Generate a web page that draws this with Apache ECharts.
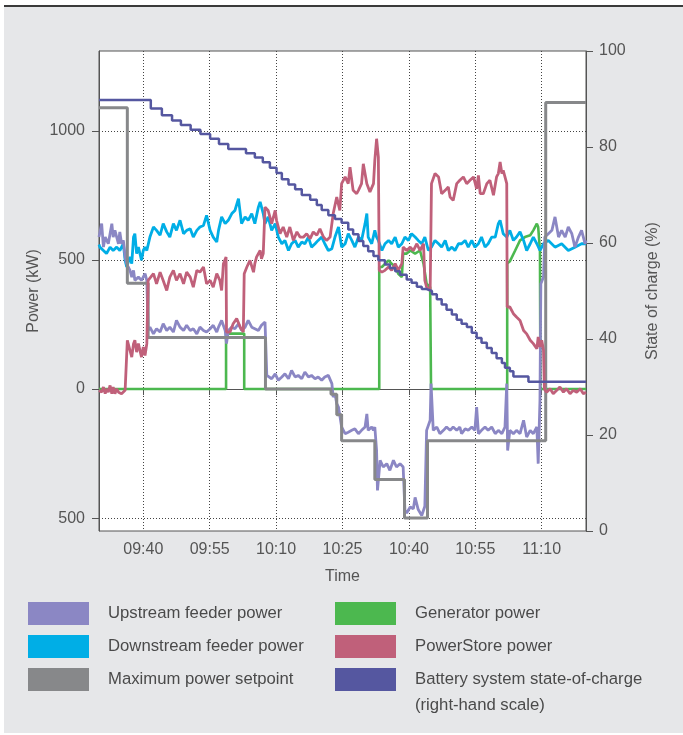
<!DOCTYPE html>
<html>
<head>
<meta charset="utf-8">
<script src="https://cdn.jsdelivr.net/npm/echarts@6/dist/echarts.min.js"></script>
<style>html,body{margin:0;padding:0;background:#fff}#c{width:683px;height:735px}</style>
</head>
<body>
<div id="c"></div>
<script>
// time values are minutes since midnight (09:30 = 570)
const xTicks = [580, 595, 610, 625, 640, 655, 670];
const yLeftTicks = [-500, 0, 500, 1000];

const upstream = [[570.0,589],[570.6,641],[571.0,550],[571.4,589],[572.1,563],[572.9,641],[573.2,589],[573.6,615],[574.4,563],[574.7,609],[575.1,563],[575.5,576],[575.9,512],[576.25,486],[576.6,473],[577.0,460],[577.4,434],[577.8,460],[578.1,421],[578.9,434],[579.6,421],[580.4,447],[580.8,421],[581.1,227],[581.5,240],[582.3,214],[583.0,234],[583.8,221],[584.5,253],[585.3,227],[586.0,240],[586.8,221],[587.5,266],[588.3,240],[589.1,227],[589.8,247],[590.6,227],[591.3,234],[592.1,214],[592.8,240],[593.6,227],[594.3,221],[595.1,234],[595.8,247],[596.6,221],[597.0,240],[597.7,266],[598.5,227],[598.8,176],[599.2,227],[600.0,240],[600.7,234],[601.5,253],[602.2,227],[603.0,240],[603.7,266],[604.5,240],[605.2,234],[606.0,227],[606.7,247],[607.5,260],[607.9,53],[608.2,53],[609.0,40],[609.8,59],[610.5,34],[611.3,47],[612.0,59],[612.8,40],[613.5,72],[614.3,47],[615.0,53],[615.8,40],[616.5,66],[617.3,47],[618.0,53],[618.8,40],[619.5,47],[620.3,34],[621.0,47],[621.8,53],[622.2,59],[622.6,21],[622.9,-31],[623.3,-18],[623.7,-57],[624.1,-70],[624.4,-70],[624.8,-147],[625.2,-160],[625.6,-173],[626.3,-167],[627.1,-160],[627.8,-154],[628.6,-173],[629.3,-160],[630.1,-147],[630.5,-96],[630.8,-160],[631.6,-147],[632.0,-160],[632.3,-147],[632.7,-238],[632.9,-393],[633.5,-276],[634.2,-302],[635.0,-289],[635.7,-315],[636.5,-276],[637.2,-302],[638.0,-289],[638.7,-302],[639.1,-470],[639.5,-480],[640.3,-457],[641.0,-464],[641.4,-420],[642.1,-467],[642.9,-490],[643.6,-454],[644.0,-160],[644.4,-160],[644.8,-121],[645.0,21],[645.5,-160],[646.3,-147],[647.0,-173],[647.8,-160],[648.5,-147],[649.3,-160],[650.0,-147],[650.8,-160],[651.5,-147],[651.9,-173],[652.7,-154],[653.4,-160],[654.2,-147],[654.9,-160],[655.3,-70],[655.7,-173],[656.4,-160],[657.2,-147],[657.9,-160],[658.7,-147],[659.5,-173],[660.2,-160],[661.0,-173],[661.7,-147],[662.1,21],[662.3,-238],[662.8,-160],[663.6,-173],[664.3,-160],[665.1,-173],[665.9,-121],[666.6,-186],[667.4,-160],[668.1,-173],[668.9,-147],[669.2,-289],[669.6,-44],[669.8,408],[670.4,434],[670.7,589],[671.5,602],[672.3,615],[673.0,667],[673.8,589],[674.5,615],[675.3,589],[676.0,628],[676.8,602],[677.5,550],[678.3,589],[679.0,615],[679.8,563],[680,576]];

const downstream = [[570.0,560],[570.2,550],[571.0,537],[571.7,525],[572.5,550],[573.2,537],[574.0,550],[574.7,537],[575.5,563],[575.9,499],[576.25,473],[577.0,512],[577.4,486],[577.8,589],[578.1,602],[578.5,525],[578.9,550],[579.6,499],[580.0,537],[580.4,550],[580.8,537],[581.5,589],[582.3,628],[583.0,615],[583.8,596],[584.5,641],[585.3,609],[586.0,589],[586.8,641],[587.5,615],[588.3,654],[589.1,602],[589.8,615],[590.6,621],[591.3,589],[592.1,615],[592.8,628],[593.6,634],[594.3,673],[595.1,615],[595.8,589],[596.6,570],[597.0,615],[597.7,667],[598.5,641],[599.2,654],[600.0,680],[600.7,692],[601.5,738],[602.2,641],[603.0,667],[603.7,654],[604.5,680],[605.2,641],[606.0,705],[606.4,725],[607.1,680],[607.5,641],[608.2,667],[609.0,615],[609.8,641],[610.5,589],[611.3,563],[612.0,576],[612.8,537],[613.5,563],[614.3,576],[615.0,550],[615.8,570],[616.5,563],[617.3,589],[618.0,550],[618.8,563],[619.5,576],[620.3,589],[621.0,563],[621.8,537],[622.6,544],[623.3,589],[624.1,628],[624.8,550],[625.6,563],[626.3,602],[627.1,576],[627.8,550],[628.6,589],[629.3,576],[630.1,641],[630.5,680],[630.8,589],[631.6,563],[632.3,615],[632.7,589],[633.1,576],[633.9,537],[634.6,563],[635.4,576],[636.1,563],[636.9,589],[637.6,550],[638.4,563],[639.1,589],[639.9,576],[640.6,602],[641.4,589],[642.1,576],[642.9,563],[643.6,589],[644.4,537],[645.1,550],[645.9,576],[646.7,563],[647.4,550],[648.2,576],[648.9,537],[649.7,550],[650.4,537],[651.2,563],[651.9,563],[652.7,576],[653.4,550],[654.2,576],[654.9,550],[655.7,563],[656.4,589],[657.2,550],[657.9,563],[658.7,589],[659.5,589],[660.2,641],[660.6,654],[661.3,602],[662.1,589],[662.8,615],[663.6,576],[664.3,589],[665.1,609],[665.9,576],[666.6,537],[667.4,563],[668.1,589],[668.9,563],[669.6,537],[670.4,563],[671.5,576],[673.0,550],[674.5,563],[676.0,537],[677.5,550],[679.0,563],[680,563]];

const setpoint = [[570,1090],[576.4,410],[581.1,200],[607.6,0],[622.4,-20],[623.7,-100],[624.8,-200],[632.3,-350],[639.0,-500],[644.2,-200],[670.9,1110],[680,1110]];

const generator = [[570,0],[598.7,0],[598.7,215],[602.8,215],[602.8,0],[633.3,0],[633.3,473],[633.9,473],[635.4,499],[636.1,486],[636.9,473],[637.6,447],[638.4,434],[638.7,525],[639.5,525],[640.3,537],[641.4,525],[642.5,537],[643.3,486],[644.0,408],[644.8,395],[645.0,395],[645.0,0],[662.2,0],[662.2,486],[662.8,495],[664.0,537],[665.1,576],[666.2,589],[667.4,596],[668.1,615],[668.9,641],[669.2,628],[669.6,537],[669.7,0],[680,0]];

const powerstore = [[570.0,-5],[570.6,-12],[571.0,8],[571.4,-18],[571.7,1],[572.1,-12],[572.5,14],[572.9,-18],[573.2,8],[573.6,-18],[574.0,1],[574.4,-12],[574.7,-5],[575.1,-18],[575.5,-12],[575.9,-5],[576.25,-5],[576.4,189],[576.6,195],[577.4,124],[577.8,176],[578.1,189],[578.5,143],[578.9,176],[579.6,124],[580.0,163],[580.4,130],[580.8,176],[581.1,421],[581.5,421],[582.3,447],[583.0,408],[583.8,453],[584.5,421],[585.3,382],[586.0,434],[586.8,460],[587.5,421],[588.3,447],[589.1,408],[589.8,453],[590.6,434],[591.3,395],[592.1,460],[592.8,453],[593.6,473],[594.3,408],[595.1,421],[595.8,395],[596.6,447],[597.3,421],[597.7,382],[598.1,486],[598.7,512],[598.8,221],[599.6,221],[600.3,253],[601.1,273],[601.9,240],[602.6,221],[602.8,447],[603.4,473],[604.1,499],[604.9,453],[605.2,486],[605.6,512],[606.4,537],[606.7,505],[607.1,525],[607.5,705],[608.2,692],[609.0,641],[609.8,692],[610.1,654],[610.9,602],[611.6,628],[612.4,589],[613.1,628],[613.9,576],[614.7,609],[615.4,589],[616.2,589],[616.9,602],[617.7,583],[618.4,609],[619.2,596],[619.9,621],[620.7,589],[621.4,576],[622.2,589],[622.9,680],[623.7,744],[624.4,692],[624.8,796],[625.6,822],[626.3,796],[626.7,860],[627.4,770],[628.2,757],[628.6,770],[629.3,796],[629.7,873],[630.5,796],[631.2,764],[632.0,796],[632.3,886],[632.7,970],[633.1,899],[633.3,460],[633.9,453],[634.6,460],[635.4,473],[636.1,460],[636.9,486],[637.6,460],[638.4,486],[638.7,550],[639.5,537],[640.3,550],[641.0,537],[641.8,563],[642.5,537],[643.3,563],[643.6,421],[644.0,395],[644.8,382],[645.1,796],[645.9,835],[646.7,822],[647.4,757],[648.2,770],[648.9,783],[649.3,744],[650.0,731],[650.8,796],[651.5,809],[652.3,822],[653.05,796],[653.8,809],[654.6,822],[655.3,776],[655.7,828],[656.1,757],[656.8,757],[657.6,796],[658.3,809],[659.1,751],[659.8,822],[660.2,835],[660.6,880],[661.0,835],[661.3,847],[661.7,822],[662.1,796],[662.2,318],[662.8,318],[663.6,292],[664.3,279],[665.1,266],[665.9,227],[666.6,214],[667.4,189],[668.1,176],[668.9,156],[669.2,202],[669.6,163],[670.0,189],[670.4,150],[670.6,0],[671.1,-12],[671.9,1],[672.6,-18],[673.4,-5],[674.1,8],[674.9,-12],[675.6,1],[676.4,-18],[677.1,-5],[677.9,-12],[678.7,1],[679.4,-18],[680,-12]];

const stateOfCharge = [[570,89.8],[581.7,88.0],[584.2,86.6],[586.5,85.5],[588.5,84.6],[590.7,83.6],[592.9,82.7],[595.1,81.7],[597.1,80.6],[599.2,79.6],[603.2,78.7],[605.2,77.8],[607.0,76.8],[608.6,75.7],[610.1,74.6],[611.3,73.3],[612.8,72.2],[614.3,71.2],[615.8,70.0],[617.7,69.0],[619.2,67.9],[620.3,66.9],[621.8,65.8],[623.3,65.0],[624.8,64.2],[626.3,62.8],[627.4,61.8],[628.6,60.4],[629.7,59.4],[630.8,58.3],[632.0,57.3],[633.1,56.4],[634.6,55.5],[635.7,54.8],[636.9,54.1],[638.0,53.4],[639.5,52.4],[640.6,51.7],[641.8,50.9],[642.9,50.4],[644.0,50.0],[645.2,49.3],[646.3,48.3],[647.4,47.2],[648.5,46.1],[649.7,45.1],[650.8,44.0],[651.9,43.2],[653.1,42.5],[654.2,41.3],[655.3,40.2],[656.4,39.2],[657.6,38.1],[658.7,37.1],[659.8,36.0],[661.0,35.0],[661.7,34.0],[662.8,33.3],[663.6,32.2],[667.0,31.1],[680,31.1]];

const FONT = 'Liberation Sans, Arial, Helvetica, sans-serif';
const TXT = '#555555';
function fmtTime(v) {
  const h = Math.floor(v / 60), m = Math.round(v - h * 60);
  return (h < 10 ? '0' : '') + h + ':' + (m < 10 ? '0' : '') + m;
}
function lineSeries(name, data, color, width, extra) {
  return Object.assign({
    name: name, type: 'line', data: data, showSymbol: false, symbol: 'none',
    lineStyle: {width: width, color: color}, itemStyle: {color: color},
    emphasis: {disabled: true}, animation: false
  }, extra || {});
}
const legendBase = {
  orient: 'vertical', icon: 'rect', itemWidth: 61, itemHeight: 23, itemGap: 10,
  selectedMode: false, itemStyle: {borderWidth: 0}, padding: 0
};
const legendText = {fontSize: 16.7, color: '#4a4a4a', fontFamily: FONT, padding: [0, 0, 0, 14]};

const chart = echarts.init(document.getElementById('c'), null, {renderer: 'canvas'});
chart.setOption({
  animation: false,
  backgroundColor: '#ffffff',
  textStyle: {fontFamily: FONT},
  graphic: [
    {type: 'rect', silent: true, z: -10, shape: {x: 4, y: 7, width: 679, height: 726}, style: {fill: '#e6e7e9'}},
    {type: 'rect', silent: true, z: -9, shape: {x: 4, y: 5, width: 679, height: 2}, style: {fill: '#3a3a3a'}}
  ],
  grid: {left: 99, right: 97, top: 51, bottom: 204, show: true, backgroundColor: '#ffffff',
         borderColor: '#555', borderWidth: 1, containLabel: false, outerBoundsMode: 'none'},
  legend: [
    Object.assign({}, legendBase, {left: 28, top: 602, textStyle: legendText,
      data: ['Upstream feeder power', 'Downstream feeder power', 'Maximum power setpoint']}),
    Object.assign({}, legendBase, {left: 335, top: 602, textStyle: legendText,
      data: ['Generator power', 'PowerStore power']}),
    Object.assign({}, legendBase, {left: 335, top: 640.5,
      formatter: function (n) { return '\n' + n + '\n(right-hand scale)'; },
      textStyle: Object.assign({}, legendText, {lineHeight: 26}),
      data: ['Battery system state-of-charge']})
  ],
  xAxis: {
    type: 'value', min: 570, max: 680,
    name: 'Time', nameLocation: 'middle', nameGap: 38, nameMoveOverlap: false,
    nameTextStyle: {fontSize: 16, color: TXT, fontFamily: FONT},
    axisLine: {show: true, lineStyle: {color: '#555', width: 1}},
    axisTick: {show: true, customValues: xTicks, length: 6, lineStyle: {color: '#555'}},
    axisLabel: {customValues: xTicks, formatter: fmtTime, fontSize: 16, color: TXT, margin: 11, fontFamily: FONT},
    splitLine: {show: true, lineStyle: {type: [1, 2], color: '#444', width: 1}}
  },
  yAxis: [
    {
      type: 'value', min: -550, max: 1310, position: 'left',
      name: 'Power (kW)', nameLocation: 'middle', nameGap: 57, nameRotate: 90, nameMoveOverlap: false,
      nameTextStyle: {fontSize: 16, color: TXT, fontFamily: FONT},
      axisLine: {show: true, lineStyle: {color: '#555', width: 1}},
      axisTick: {show: true, customValues: yLeftTicks, length: 7, lineStyle: {color: '#555'}},
      axisLabel: {customValues: yLeftTicks, formatter: function (v) { return String(Math.abs(v)); },
                  fontSize: 16, color: TXT, margin: 14, fontFamily: FONT},
      splitLine: {show: true, lineStyle: {type: [1, 2], color: '#444', width: 1}}
    },
    {
      type: 'value', min: 0, max: 100, interval: 20, position: 'right',
      name: 'State of charge (%)', nameLocation: 'middle', nameGap: 59, nameRotate: 90, nameMoveOverlap: false,
      nameTextStyle: {fontSize: 16, color: TXT, fontFamily: FONT},
      axisLine: {show: true, lineStyle: {color: '#555', width: 1}},
      axisTick: {show: true, length: 7, lineStyle: {color: '#555'}},
      axisLabel: {fontSize: 16, color: TXT, margin: 13, fontFamily: FONT},
      splitLine: {show: false}
    }
  ],
  series: [
    lineSeries('Generator power', generator, '#4cb84f', 2.6),
    lineSeries('Downstream feeder power', downstream, '#00aee6', 2.8),
    lineSeries('Upstream feeder power', upstream, '#8b87c4', 2.8),
    lineSeries('Maximum power setpoint', setpoint, '#87888a', 3, {step: 'end'}),
    lineSeries('PowerStore power', powerstore, '#c0607a', 2.8),
    lineSeries('Battery system state-of-charge', stateOfCharge, '#5557a0', 2.5, {step: 'end', yAxisIndex: 1})
  ]
});
</script>
</body>
</html>
